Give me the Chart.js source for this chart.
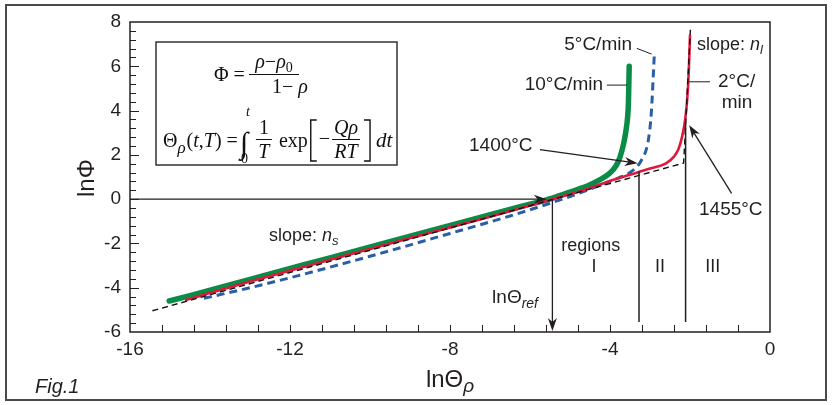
<!DOCTYPE html>
<html><head><meta charset="utf-8">
<script src="https://cdn.jsdelivr.net/npm/chart.js@4"></script>
<style>html,body{margin:0;padding:0;background:#fff}#wrap{width:832px;height:405px;position:relative}</style>
</head><body><div id="wrap"><canvas id="c" width="832" height="405"></canvas></div>
<script>
// ---- data ----
const xMin = -16, xMax = 0, xStep = 4, xMinor = 0.8;
const yMin = -6, yMax = 8, yStep = 2, yMinor = 0.4;

const greenX = [-15.02,-14.5,-13,-11,-9.25,-7.5,-6.2,-5.44,-5.0,-4.5,-4.25,-4.0,-3.85,-3.75,-3.66,-3.6,-3.56,-3.54,-3.53,-3.52];
const greenY = [-4.6,-4.36,-3.62,-2.65,-1.8,-0.95,-0.32,0.05,0.32,0.65,0.88,1.18,1.5,1.9,2.5,3.1,3.7,4.3,5.1,6.0];

const blueX = [-14.15,-13,-12,-10,-8,-6.5,-5.44,-4.75,-4.2,-3.8,-3.5,-3.3,-3.2,-3.1,-3.03,-2.98,-2.95,-2.92,-2.89];
const blueY = [-4.48,-4.0,-3.55,-2.58,-1.55,-0.76,-0.15,0.28,0.66,0.95,1.2,1.52,1.8,2.2,2.8,3.6,4.4,5.5,6.6];

const redX = [-14.6,-13,-11,-9,-7,-5.44,-4.75,-4.0,-3.5,-3.0,-2.6,-2.4,-2.29,-2.2,-2.12,-2.07,-2.03,-2.0];
const redY = [-4.55,-3.72,-2.74,-1.76,-0.79,0.0,0.36,0.82,1.1,1.38,1.62,1.92,2.25,2.8,3.6,4.5,5.8,7.4];

const fitX = [-15.44,-2.16,-2.13,-1.99];
const fitY = [-5.04,1.63,2.6,7.65];

const lnThetaRef = -5.44;
const regionLineX = [-3.275, -2.11];

const SANS = '"Liberation Sans", Arial, Helvetica, sans-serif';
const SERIF = '"Liberation Serif", "Times New Roman", serif';
const INK = '#231f20';

const pts = (xs, ys) => xs.map((x, i) => ({x, y: ys[i]}));

function arrow(ctx, x1, y1, x2, y2, len = 13, half = 4.5) {
  const a = Math.atan2(y2 - y1, x2 - x1);
  const c = Math.cos(a), s = Math.sin(a);
  ctx.beginPath();
  ctx.moveTo(x1, y1);
  ctx.lineTo(x2 - c * len * 0.6, y2 - s * len * 0.6);
  ctx.stroke();
  ctx.beginPath();
  ctx.moveTo(x2, y2);
  ctx.lineTo(x2 - c * len - s * half, y2 - s * len + c * half);
  ctx.lineTo(x2 - c * len * 0.7, y2 - s * len * 0.7);
  ctx.lineTo(x2 - c * len + s * half, y2 - s * len - c * half);
  ctx.closePath();
  ctx.fill();
}

function rich(ctx, x, y, parts, align) {
  let w = 0;
  parts.forEach(p => { ctx.font = p.f; w += ctx.measureText(p.t).width + (p.gap || 0); });
  let cx = align === 'right' ? x - w : align === 'center' ? x - w / 2 : x;
  ctx.textBaseline = 'alphabetic';
  ctx.textAlign = 'left';
  parts.forEach(p => {
    ctx.font = p.f;
    ctx.fillText(p.t, cx, y + (p.dy || 0));
    cx += ctx.measureText(p.t).width + (p.gap || 0);
  });
  return cx;
}

const deco = {
  id: 'deco',
  afterDatasetsDraw(chart) {
    const ctx = chart.ctx;
    const xs = chart.scales.x, ys = chart.scales.y;
    const X = v => xs.getPixelForValue(v), Y = v => ys.getPixelForValue(v);
    ctx.save();
    ctx.strokeStyle = INK; ctx.fillStyle = INK;

    ctx.lineWidth = 1.3;
    arrow(ctx, X(xMin), Y(0), X(-5.58), Y(0));
    arrow(ctx, X(lnThetaRef), Y(0), X(lnThetaRef), Y(yMin) - 1);
    ctx.lineWidth = 1.5;
    ctx.beginPath();
    ctx.moveTo(X(regionLineX[0]), Y(1.25)); ctx.lineTo(X(regionLineX[0]), Y(-5.55));
    ctx.moveTo(X(regionLineX[1]), Y(3.5)); ctx.lineTo(X(regionLineX[1]), Y(-5.55));
    ctx.stroke();
    ctx.lineWidth = 1.3;
    arrow(ctx, X(-5.75), Y(2.24), X(-3.31), Y(1.62));
    arrow(ctx, X(-0.96), Y(0.26), X(-2.02), Y(3.34));
    ctx.lineWidth = 1;
    ctx.beginPath();
    ctx.moveTo(X(-3.33), Y(6.81)); ctx.lineTo(X(-2.96), Y(6.55));
    ctx.moveTo(X(-4.08), Y(5.15)); ctx.lineTo(X(-3.58), Y(5.15));
    ctx.moveTo(X(-2.02), Y(5.3)); ctx.lineTo(X(-1.5), Y(5.3));
    ctx.stroke();

    const f19 = '19px ' + SANS, f18 = '18px ' + SANS, f18i = 'italic 18px ' + SANS;
    const f13i = 'italic 13px ' + SANS;
    ctx.textBaseline = 'middle';
    ctx.font = f19;
    ctx.textAlign = 'right';
    ctx.fillText('5°C/min', X(-3.45), Y(6.98));
    ctx.fillText('10°C/min', X(-4.175), Y(5.15));
    ctx.textAlign = 'left';
    ctx.fillText('2°C/', X(-1.3), Y(5.28));
    ctx.fillText('1455°C', X(-1.775), Y(-0.5));
    ctx.fillText('1400°C', X(-7.525), Y(2.39));
    ctx.textAlign = 'center';
    ctx.fillText('min', X(-0.825), Y(4.34));
    ctx.font = f18;
    ctx.fillText('regions', X(-4.48), Y(-2.11));
    ctx.fillText('I', X(-4.4), Y(-3.07));
    ctx.fillText('II', X(-2.75), Y(-3.07));
    ctx.fillText('III', X(-1.43), Y(-3.07));

    rich(ctx, X(-1.825), Y(7.0) + 6, [
      {t: 'slope: ', f: f18}, {t: 'n', f: f18i}, {t: 'l', f: f13i, dy: 4}
    ], 'left');
    rich(ctx, X(-12.525), Y(-1.6) + 6, [
      {t: 'slope: ', f: f18}, {t: 'n', f: f18i}, {t: 's', f: f13i, dy: 4}
    ], 'left');
    rich(ctx, X(-5.8), Y(-4.41) + 6, [
      {t: 'lnΘ', f: f19}, {t: 'ref', f: 'italic 14px ' + SANS, dy: 5}
    ], 'right');
    ctx.restore();
  },
  afterDraw(chart) {
    const ctx = chart.ctx;
    const xs = chart.scales.x, ys = chart.scales.y;
    const X = v => xs.getPixelForValue(v), Y = v => ys.getPixelForValue(v);
    const L = X(xMin), R = X(xMax), T = Y(yMax), B = Y(yMin);
    ctx.save();
    ctx.strokeStyle = INK; ctx.fillStyle = INK;
    ctx.lineWidth = 1.5;
    ctx.strokeRect(L, T, R - L, B - T);
    ctx.lineWidth = 1;
    ctx.beginPath();
    const nx = Math.round((xMax - xMin) / xMinor);
    for (let i = 1; i < nx; i++) {
      const px = Math.round(X(xMin + i * xMinor)) + 0.5;
      ctx.moveTo(px, B); ctx.lineTo(px, B - 7);
    }
    const ny = Math.round((yMax - yMin) / yMinor);
    for (let i = 1; i < ny; i++) {
      const py = Math.round(Y(yMin + i * yMinor)) + 0.5;
      const len = (i % 5 === 0) ? 9 : 6;
      ctx.moveTo(L, py); ctx.lineTo(L + len, py);
    }
    ctx.stroke();
    ctx.strokeStyle = '#4a4a4a';
    ctx.lineWidth = 2;
    ctx.strokeRect(6, 5, 820, 395);

    ctx.fillStyle = INK;
    ctx.save();
    ctx.translate(87, Y(0.95));
    ctx.rotate(-Math.PI / 2);
    ctx.font = '24px ' + SANS;
    ctx.textAlign = 'center'; ctx.textBaseline = 'middle';
    ctx.fillText('lnΦ', 0, 0);
    ctx.restore();
    rich(ctx, (L + R) / 2, 387, [
      {t: 'lnΘ', f: '24px ' + SANS}, {t: 'ρ', f: 'italic 19px ' + SANS, dy: 5}
    ], 'center');
    ctx.font = 'italic 20px ' + SANS;
    ctx.textAlign = 'left'; ctx.textBaseline = 'alphabetic';
    ctx.fillText('Fig.1', 35, 393);

    // formula box
    const bx = 156, by = 42, bw = 241, bh = 123;
    ctx.fillStyle = '#fff';
    ctx.fillRect(bx, by, bw, bh);
    ctx.strokeStyle = '#333';
    ctx.lineWidth = 1.5;
    ctx.strokeRect(bx, by, bw, bh);
    ctx.fillStyle = '#111'; ctx.strokeStyle = '#111';
    const s20 = '20px ' + SERIF, s20i = 'italic 20px ' + SERIF, s14 = '14px ' + SERIF, s14i = 'italic 14px ' + SERIF;
    rich(ctx, 214, 81, [{t: 'Φ', f: s20}, {t: ' = ', f: s20}], 'left');
    rich(ctx, 274, 68, [{t: 'ρ', f: s20i}, {t: '−', f: s20}, {t: 'ρ', f: s20i}, {t: '0', f: s14, dy: 4}], 'center');
    ctx.lineWidth = 1;
    ctx.beginPath(); ctx.moveTo(249, 74.5); ctx.lineTo(299, 74.5); ctx.stroke();
    rich(ctx, 272, 93, [{t: '1− ', f: s20}, {t: 'ρ', f: s20i}], 'left');
    let x = 163;
    const base = 147;
    x = rich(ctx, x, base, [{t: 'Θ', f: s20}]);
    x = rich(ctx, x, base + 6, [{t: 'ρ', f: 'italic 17px ' + SERIF}]);
    x = rich(ctx, x + 1, base, [{t: '(', f: s20}, {t: 't', f: s20i}, {t: ',', f: s20}, {t: 'T', f: s20i}, {t: ')', f: s20}, {t: ' =', f: s20}]);
    ctx.font = '30px ' + SERIF;
    ctx.fillText('∫', x + 2, base + 6);
    ctx.font = s14i; ctx.fillText('t', x + 8, 116);
    ctx.font = s14; ctx.fillText('0', x + 3, 163);
    x += 18;
    ctx.font = s20; ctx.textAlign = 'center';
    ctx.fillText('1', x + 8, 134);
    ctx.font = s20i; ctx.fillText('T', x + 8, 158);
    ctx.beginPath(); ctx.moveTo(x, 139.5); ctx.lineTo(x + 16, 139.5); ctx.stroke();
    ctx.textAlign = 'left';
    x += 23;
    x = rich(ctx, x, base, [{t: 'exp', f: s20}]);
    ctx.lineWidth = 1.4;
    ctx.beginPath();
    ctx.moveTo(x + 9, 120); ctx.lineTo(x + 3, 120); ctx.lineTo(x + 3, 161); ctx.lineTo(x + 9, 161);
    ctx.stroke();
    x += 11;
    x = rich(ctx, x, 145, [{t: '−', f: s20}]);
    ctx.textAlign = 'center';
    ctx.font = s20i; ctx.fillText('Qρ', x + 16, 134); ctx.fillText('RT', x + 16, 158);
    ctx.lineWidth = 1;
    ctx.beginPath(); ctx.moveTo(x + 2, 139.5); ctx.lineTo(x + 30, 139.5); ctx.stroke();
    ctx.textAlign = 'left';
    x += 34;
    ctx.lineWidth = 1.4;
    ctx.beginPath();
    ctx.moveTo(x, 120); ctx.lineTo(x + 6, 120); ctx.lineTo(x + 6, 161); ctx.lineTo(x, 161);
    ctx.stroke();
    x += 12;
    rich(ctx, x, base, [{t: 'dt', f: 'italic 21px ' + SERIF}]);
    ctx.restore();
  }
};

const line = (data, color, width, dash, order, tension) => ({
  data, borderColor: color, borderWidth: width, borderDash: dash,
  showLine: true, pointRadius: 0, fill: false, order,
  cubicInterpolationMode: tension ? 'monotone' : 'default', tension: 0,
  borderCapStyle: dash.length ? 'butt' : 'round', borderJoinStyle: 'round'
});

new Chart(document.getElementById('c'), {
  type: 'scatter',
  data: {
    datasets: [
      line(pts(fitX, fitY), '#111111', 1.4, [6, 4], 0, false),
      line(pts(redX, redY), '#e0183c', 2.6, [], 1, true),
      line(pts(blueX, blueY), '#2b5ea7', 3, [8, 5], 2, true),
      line(pts(greenX, greenY), '#0a8c47', 5.5, [], 3, true)
    ]
  },
  options: {
    responsive: false, animation: false, devicePixelRatio: 1,
    layout: {padding: {left: 0, top: 22, right: 62, bottom: 0}},
    plugins: {legend: {display: false}, tooltip: {enabled: false}},
    scales: {
      x: {
        type: 'linear', min: xMin, max: xMax,
        ticks: {stepSize: xStep, color: INK, font: {family: SANS, size: 19}, padding: 6, maxRotation: 0},
        grid: {display: false, drawTicks: false}, border: {display: false},
        afterFit: s => { s.height = 73; }
      },
      y: {
        type: 'linear', min: yMin, max: yMax,
        ticks: {stepSize: yStep, color: INK, font: {family: SANS, size: 19}, padding: 9},
        grid: {display: false, drawTicks: false}, border: {display: false},
        afterFit: s => { s.width = 130; }
      }
    }
  },
  plugins: [deco]
});
</script></body></html>
